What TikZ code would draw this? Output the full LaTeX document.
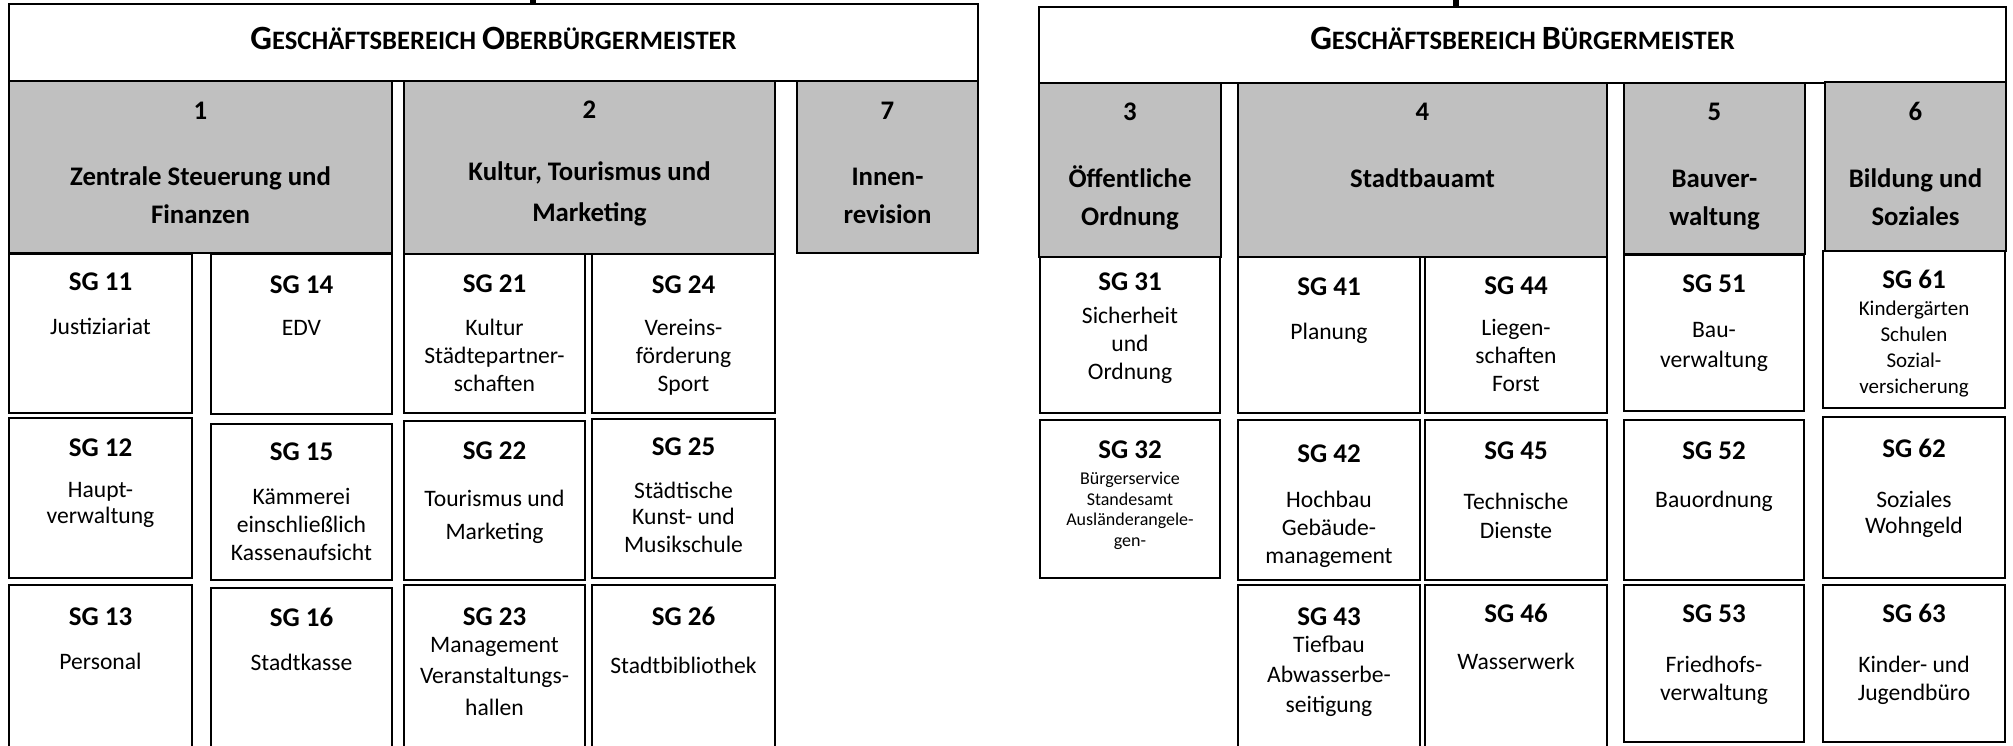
\documentclass[tikz,border=0pt]{standalone}
\usepackage{fontspec}
\setmainfont{Carlito}
\usetikzlibrary{fit}
\definecolor{gfill}{HTML}{C0C0C0}
\newcommand\hsc[2]{{\fontsize{17}{17}\selectfont #1}{\fontsize{13.3}{17}\selectfont #2}}
\newcommand\sgt[1]{{\fontsize{13.5}{14}\selectfont\bfseries #1}}
\begin{document}
\begin{tikzpicture}[x=0.5pt,y=-0.5pt,
  hdr/.style={draw=black,line width=1pt,fill=white,inner sep=0pt},
  grey/.style={draw=black,line width=1pt,fill=gfill,inner sep=0pt},
  sgb/.style={draw=black,line width=1pt,fill=white,inner sep=0pt},
  htext/.style={font=\fontsize{13.3}{17}\selectfont\bfseries,anchor=base,inner sep=0pt},
  gtext/.style={font=\fontsize{13.4}{19}\selectfont\bfseries,align=center,anchor=base,inner sep=0pt,yshift=-1.2pt},
  stext/.style={font=\fontsize{11.8}{14}\selectfont,align=center,anchor=base,inner sep=0pt,yshift=-1pt},
  stub/.style={line width=3pt}
]
\useasboundingbox (0,0) rectangle (2013,745);
\clip (0,0) rectangle (2013,745);
\fill[white] (0,0) rectangle (2013,745);

% ---------- left: Oberbuergermeister ----------
\node[hdr, fit={(9,4)(978,81)}] (hL) {};
\node[grey, fit={(9,81)(392,253)}] (g1) {};
\node[grey, fit={(404,81)(775,254)}] (g2) {};
\node[grey, fit={(797,81)(978,253)}] (g7) {};
\node[sgb, fit={(9,254)(192,413)}] (sg11) {};
\node[sgb, fit={(211,254)(392,414)}] (sg14) {};
\node[sgb, fit={(404,254)(585,413)}] (sg21) {};
\node[sgb, fit={(592,254)(775,413)}] (sg24) {};
\node[sgb, fit={(9,418)(192,578)}] (sg12) {};
\node[sgb, fit={(211,424)(392,580)}] (sg15) {};
\node[sgb, fit={(404,421)(585,580)}] (sg22) {};
\node[sgb, fit={(592,419)(775,578)}] (sg25) {};
\node[sgb, fit={(9,585)(192,760)}] (sg13) {};
\node[sgb, fit={(211,588)(392,760)}] (sg16) {};
\node[sgb, fit={(404,585)(585,760)}] (sg23) {};
\node[sgb, fit={(592,585)(775,760)}] (sg26) {};

\coordinate (stubL) at (533,0);
\draw[stub] (stubL) -- (stubL |- hL.north);

\node[htext] (hLt) at (hL.center |- 0,49) {\hsc{G}{ESCHÄFTSBEREICH} \hsc{O}{BERBÜRGERMEISTER}};
\node[gtext] (g1t) at (g1.center |- 0,221) {1\\[14pt]Zentrale Steuerung und\\Finanzen};
\node[gtext] (g2t) at (g2.center |- 0,219) {2\\[12pt]Kultur, Tourismus und\\[1.5pt]Marketing};
\node[gtext] (g7t) at (g7.center |- 0,221) {7\\[14pt]Innen-\\revision};

\node[stext] (sg11t) at (sg11.center |- 0,332) {\sgt{SG 11}\\[8pt]Justiziariat};
\node[stext] (sg14t) at (sg14.center |- 0,333) {\sgt{SG 14}\\[7pt]EDV};
\node[stext] (sg21t) at (sg21.center |- 0,389) {\sgt{SG 21}\\[7.5pt]Kultur\\Städtepartner-\\schaften};
\node[stext] (sg24t) at (sg24.center |- 0,389) {\sgt{SG 24}\\[7pt]Vereins-\\förderung\\Sport};
\node[stext] (sg12t) at (sg12.center |- 0,521) {\sgt{SG 12}\\[6.5pt]Haupt-\\[-1pt]verwaltung};
\node[stext] (sg15t) at (sg15.center |- 0,558) {\sgt{SG 15}\\[8pt]Kämmerei\\einschließlich\\Kassenaufsicht};
\node[stext] (sg22t) at (sg22.center |- 0,537) {\sgt{SG 22}\\[9.5pt]Tourismus und\\[2.5pt]Marketing};
\node[stext] (sg25t) at (sg25.center |- 0,550) {\sgt{SG 25}\\[7.5pt]Städtische\\[-1pt]Kunst- und\\Musikschule};
\node[stext] (sg13t) at (sg13.center |- 0,667) {\sgt{SG 13}\\[8pt]Personal};
\node[stext] (sg16t) at (sg16.center |- 0,668) {\sgt{SG 16}\\[8pt]Stadtkasse};
\node[stext] (sg23t) at (sg23.center |- 0,713) {\sgt{SG 23}\\[-0.5pt]Management\\[1.75pt]Veranstaltungs-\\[1.75pt]hallen};
\node[stext] (sg26t) at (sg26.center |- 0,671) {\sgt{SG 26}\\[10pt]Stadtbibliothek};

% ---------- right: Buergermeister ----------
\node[hdr, fit={(1039,7)(2006,83)}] (hR) {};
\node[grey, fit={(1039,83)(1221,257)}] (g3) {};
\node[grey, fit={(1238,83)(1607,257)}] (g4) {};
\node[grey, fit={(1624,83)(1805,254)}] (g5) {};
\node[grey, fit={(1825,82)(2006,251)}] (g6) {};
\node[sgb, fit={(1040,257)(1220,413)}] (sg31) {};
\node[sgb, fit={(1238,257)(1420,413)}] (sg41) {};
\node[sgb, fit={(1425,257)(1607,413)}] (sg44) {};
\node[sgb, fit={(1624,255)(1804,411)}] (sg51) {};
\node[sgb, fit={(1823,251)(2005,408)}] (sg61) {};
\node[sgb, fit={(1040,420)(1220,578)}] (sg32) {};
\node[sgb, fit={(1238,420)(1420,580)}] (sg42) {};
\node[sgb, fit={(1425,420)(1607,580)}] (sg45) {};
\node[sgb, fit={(1624,420)(1804,580)}] (sg52) {};
\node[sgb, fit={(1823,417)(2005,578)}] (sg62) {};
\node[sgb, fit={(1238,585)(1420,760)}] (sg43) {};
\node[sgb, fit={(1425,585)(1607,760)}] (sg46) {};
\node[sgb, fit={(1624,585)(1804,742)}] (sg53) {};
\node[sgb, fit={(1823,585)(2005,742)}] (sg63) {};

\coordinate (stubR) at (1456,0);
\draw[stub] (stubR) -- (stubR |- hR.north);

\node[htext] (hRt) at (hR.center |- 0,49) {\hsc{G}{ESCHÄFTSBEREICH} \hsc{B}{ÜRGERMEISTER}};
\node[gtext] (g3t) at (g3.center |- 0,223) {3\\[14.5pt]Öffentliche\\Ordnung};
\node[gtext] (g4t) at (g4.center |- 0,185) {4\\[14.5pt]Stadtbauamt};
\node[gtext] (g5t) at (g5.center |- 0,223) {5\\[14.5pt]Bauver-\\waltung};
\node[gtext] (g6t) at (g6.center |- 0,223) {6\\[14.5pt]Bildung und\\Soziales};

\node[stext] (sg31t) at (sg31.center |- 0,377) {\sgt{SG 31}\\[2.5pt]Sicherheit\\und\\Ordnung};
\node[stext] (sg41t) at (sg41.center |- 0,337) {\sgt{SG 41}\\[8pt]Planung};
\node[stext] (sg44t) at (sg44.center |- 0,389) {\sgt{SG 44}\\[6.5pt]Liegen-\\schaften\\Forst};
\node[stext] (sg51t) at (sg51.center |- 0,365) {\sgt{SG 51}\\[8.5pt]Bau-\\[1pt]verwaltung};
\node[stext, font=\fontsize{10.5}{13}\selectfont] (sg61t) at (sg61.center |- 0,391) {\sgt{SG 61}\\[0.5pt]Kindergärten\\Schulen\\Sozial-\\versicherung};
\node[stext, font=\fontsize{9}{10.2}\selectfont] (sg32t) at (sg32.center |- 0,544) {\sgt{SG 32}\\[2.8pt]Bürgerservice\\Standesamt\\Ausländerangele-\\gen-};
\node[stext] (sg42t) at (sg42.center |- 0,561) {\sgt{SG 42}\\[8.5pt]Hochbau\\Gebäude-\\management};
\node[stext] (sg45t) at (sg45.center |- 0,536) {\sgt{SG 45}\\[11pt]Technische\\[0.5pt]Dienste};
\node[stext] (sg52t) at (sg52.center |- 0,505) {\sgt{SG 52}\\[10pt]Bauordnung};
\node[stext] (sg62t) at (sg62.center |- 0,531) {\sgt{SG 62}\\[11pt]Soziales\\[-1pt]Wohngeld};
\node[stext] (sg43t) at (sg43.center |- 0,710) {\sgt{SG 43}\\[-0.5pt]Tiefbau\\[1pt]Abwasserbe-\\[1pt]seitigung};
\node[stext] (sg46t) at (sg46.center |- 0,667) {\sgt{SG 46}\\[9.5pt]Wasserwerk};
\node[stext] (sg53t) at (sg53.center |- 0,698) {\sgt{SG 53}\\[11pt]Friedhofs-\\verwaltung};
\node[stext] (sg63t) at (sg63.center |- 0,698) {\sgt{SG 63}\\[11pt]Kinder- und\\Jugendbüro};
\end{tikzpicture}
\end{document}
